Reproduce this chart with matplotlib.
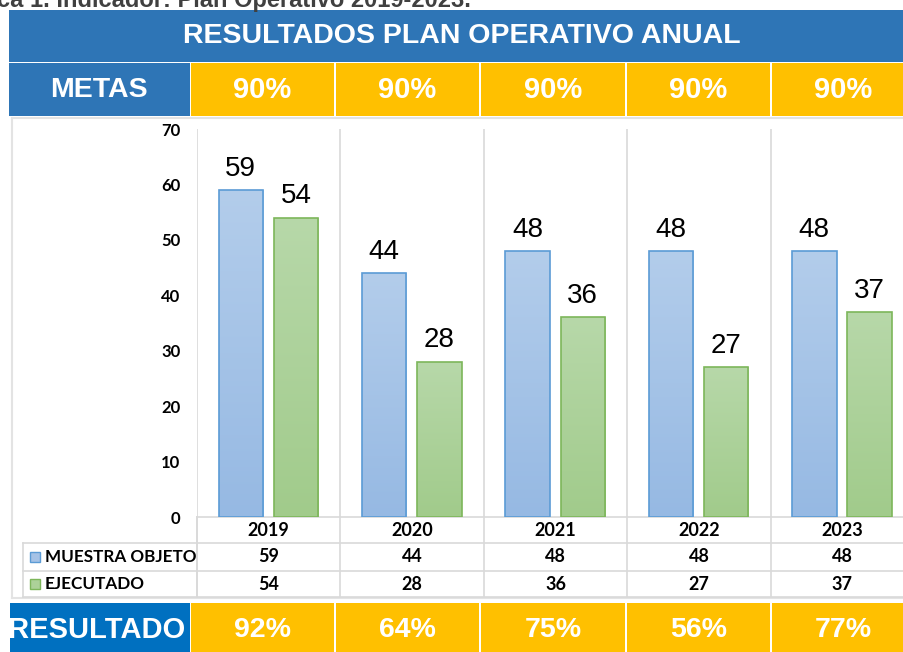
import matplotlib
matplotlib.use("Agg")
import matplotlib.pyplot as plt
import numpy as np
from matplotlib.patches import Rectangle
from matplotlib.lines import Line2D
from matplotlib.colors import LinearSegmentedColormap
from matplotlib.transforms import blended_transform_factory

# data
years = ["2019", "2020", "2021", "2022", "2023"]
muestra = [59, 44, 48, 48, 48]
ejecutado = [54, 28, 36, 27, 37]
metas = ["90%", "90%", "90%", "90%", "90%"]
resultado = ["92%", "64%", "75%", "56%", "77%"]
series_names = ["MUESTRA OBJETO", "EJECUTADO"]

W, H = 904, 652
BLUE_HDR = "#2E75B6"
BLUE_RES = "#0070C0"
YELLOW = "#FFC000"
GRID = "#D9D9D9"
BAR_BLUE = "#A5C2E6"
BAR_BLUE_EDGE = "#5B9BD5"
BAR_GREEN = "#ACD198"
BAR_GREEN_EDGE = "#7DB65A"

HEAD_FONT = "Liberation Sans"
BODY_FONT = "Lato"


def fx(x):
    return x / W


def fy(y):
    return 1 - y / H


fig = plt.figure(figsize=(W / 100, H / 100), dpi=100)
fig.patch.set_facecolor("white")


def box(x0, y0, x1, y1, color, **kw):
    fig.patches.append(Rectangle((fx(x0), fy(y1)), fx(x1) - fx(x0), fy(y0) - fy(y1),
                                 transform=fig.transFigure, facecolor=color,
                                 edgecolor="none", **kw))


def hline(y, x0, x1, color=GRID, lw=1.2):
    fig.lines.append(Line2D([fx(x0), fx(x1)], [fy(y), fy(y)], transform=fig.transFigure,
                            color=color, lw=lw))


def vline(x, y0, y1, color=GRID, lw=1.2):
    fig.lines.append(Line2D([fx(x), fx(x)], [fy(y0), fy(y1)], transform=fig.transFigure,
                            color=color, lw=lw))


# caption cut at the top
fig.text(fx(-3), fy(7), "ca 1. Indicador: Plan Operativo 2019-2023.", fontsize=17,
         fontweight="bold", color="#404040", family=HEAD_FONT, ha="left", va="baseline")

# title row
box(9, 10, 904, 62, BLUE_HDR)
fig.text(fx(462), fy(36), "RESULTADOS PLAN OPERATIVO ANUAL", fontsize=20.5, fontweight="bold",
         color="white", family=HEAD_FONT, ha="center", va="center")

# metas / resultado rows
edges = [190, 335, 480, 626, 771, 916]
box(9, 63, 190, 116, BLUE_HDR)
fig.text(fx(99), fy(90), "METAS", fontsize=20.5, fontweight="bold", color="white",
         family=HEAD_FONT, ha="center", va="center")
box(10, 603, 190, 652, BLUE_RES)
fig.text(fx(97), fy(630), "RESULTADO", fontsize=21, fontweight="bold", color="white",
         family=HEAD_FONT, ha="center", va="center")
for i in range(len(years)):
    x0, x1 = edges[i] + 1, edges[i + 1] - 1
    box(x0, 63, x1, 116, YELLOW)
    box(x0, 603, x1, 652, YELLOW)
    fig.text(fx((x0 + x1) / 2), fy(90), metas[i], fontsize=21, fontweight="bold",
             color="white", family=HEAD_FONT, ha="center", va="center")
    fig.text(fx((x0 + x1) / 2), fy(630), resultado[i], fontsize=20.5, fontweight="bold",
             color="white", family=HEAD_FONT, ha="center", va="center")

# chart frame
hline(117.5, 12, 904, color="#E3E3E3", lw=1.5)
hline(598, 12, 904, color="#E3E3E3", lw=1.5)
vline(12, 117.5, 598, color="#E3E3E3", lw=1.5)

# bar chart
ax_left, ax_right, ax_top, ax_bot = 197, 914, 129, 517
ax = fig.add_axes([fx(ax_left), fy(ax_bot), fx(ax_right) - fx(ax_left), fy(ax_top) - fy(ax_bot)])
ax.set_facecolor("none")
x = np.arange(len(years))
bw = 0.31
b1 = ax.bar(x - 0.195, muestra, bw, color="none", edgecolor=BAR_BLUE_EDGE, linewidth=1.2,
            zorder=4)
b2 = ax.bar(x + 0.19, ejecutado, bw, color="none", edgecolor=BAR_GREEN_EDGE, linewidth=1.2,
            zorder=4)

# vertical gradient fill, lighter at the top like the office chart
grad = np.linspace(0, 1, 256).reshape(-1, 1)
cm_blue = LinearSegmentedColormap.from_list("b", ["#B3CDEB", "#96B9E3"])
cm_green = LinearSegmentedColormap.from_list("g", ["#B7D8A9", "#A1CB8B"])
for bars, cm in ((b1, cm_blue), (b2, cm_green)):
    for r in bars:
        im = ax.imshow(grad, cmap=cm, aspect="auto", origin="upper", zorder=3,
                       extent=[r.get_x(), r.get_x() + r.get_width(), 0, r.get_height()])
        im.set_clip_path(r)

for bars, vals in ((b1, muestra), (b2, ejecutado)):
    for r, v in zip(bars, vals):
        ax.annotate(str(v), (r.get_x() + r.get_width() / 2, v), xytext=(0, 6),
                    textcoords="offset points", ha="center", va="bottom", fontsize=20,
                    family=HEAD_FONT, color="black")
ax.set_xlim(-0.5, len(years) - 0.5)
ax.set_ylim(0, 70)
ax.set_yticks(range(0, 71, 10))
ax.set_yticklabels([str(v) for v in range(0, 71, 10)], fontsize=12, fontweight="bold",
                   family=BODY_FONT)
ax.tick_params(axis="y", length=0, pad=12)
ax.set_xticks([])
for s in ax.spines.values():
    s.set_visible(False)
for k in range(len(years) + 1):
    ax.axvline(k - 0.5, color=GRID, lw=1.2, zorder=1)

# data table under the axis, columns follow the axis x scale
tr = blended_transform_factory(ax.transData, fig.transFigure)
ax.plot([-0.5, len(years) - 0.5], [fy(517)] * 2, transform=tr, color=GRID, lw=1.2,
        clip_on=False)
for k in range(len(years) + 1):
    ax.plot([k - 0.5, k - 0.5], [fy(517), fy(597)], transform=tr, color=GRID, lw=1.2,
            clip_on=False)
for yy in (543, 571, 597):
    hline(yy, 23, 904)
vline(23, 543, 597)
vline(197, 517, 597)

rows_y = [531, 557, 584]
for i, yr in enumerate(years):
    ax.text(i, fy(rows_y[0]), yr, transform=tr, ha="center", va="center", fontsize=13,
            fontweight="bold", family=BODY_FONT, clip_on=False)
    ax.text(i, fy(rows_y[1]), str(muestra[i]), transform=tr, ha="center", va="center",
            fontsize=13, fontweight="bold", family=BODY_FONT, clip_on=False)
    ax.text(i, fy(rows_y[2]), str(ejecutado[i]), transform=tr, ha="center", va="center",
            fontsize=13, fontweight="bold", family=BODY_FONT, clip_on=False)

for name, yy, fc, ec in ((series_names[0], rows_y[1], BAR_BLUE, BAR_BLUE_EDGE),
                         (series_names[1], rows_y[2], BAR_GREEN, BAR_GREEN_EDGE)):
    fig.patches.append(Rectangle((fx(30), fy(yy + 5)), fx(10), fy(0) - fy(10),
                                 transform=fig.transFigure, facecolor=fc, edgecolor=ec, lw=1))
    fig.text(fx(45), fy(yy), name, fontsize=12.3, fontweight="bold", family=BODY_FONT,
             ha="left", va="center")

fig.savefig("out.png", dpi=100)
